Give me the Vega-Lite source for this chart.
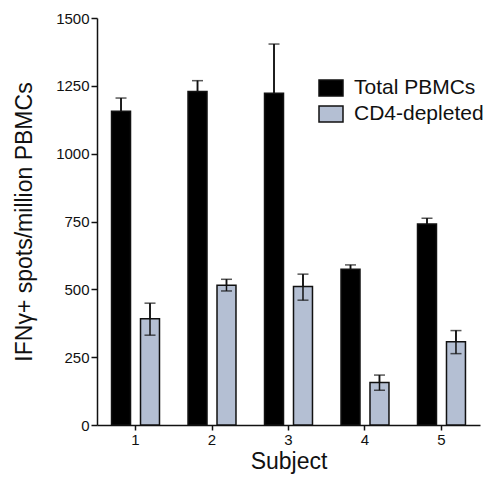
{
  "$schema": "https://vega.github.io/schema/vega-lite/v6.json",
  "width": 383,
  "height": 407,
  "autosize": {"type": "none"},
  "padding": {"left": 97, "top": 18, "right": 7, "bottom": 53},
  "config": {
    "view": {"stroke": null},
    "font": "Liberation Sans",
    "axis": {
      "grid": false,
      "domainColor": "#111111",
      "domainWidth": 1.5,
      "tickColor": "#111111",
      "tickWidth": 1.5,
      "labelColor": "#111111",
      "labelFont": "Liberation Sans",
      "labelFontSize": 15,
      "titleColor": "#111111",
      "titleFont": "Liberation Sans",
      "titleFontSize": 23,
      "titleFontWeight": "normal"
    }
  },
  "data": {
    "values": [
      {"subject": "1", "group": "Total PBMCs", "value": 1156, "lo": 1156, "hi": 1205},
      {"subject": "2", "group": "Total PBMCs", "value": 1229, "lo": 1229, "hi": 1269},
      {"subject": "3", "group": "Total PBMCs", "value": 1223, "lo": 1223, "hi": 1404},
      {"subject": "4", "group": "Total PBMCs", "value": 574, "lo": 574, "hi": 590},
      {"subject": "5", "group": "Total PBMCs", "value": 741, "lo": 741, "hi": 762},
      {"subject": "1", "group": "CD4-depleted", "value": 392, "lo": 331, "hi": 449},
      {"subject": "2", "group": "CD4-depleted", "value": 515, "lo": 494, "hi": 537},
      {"subject": "3", "group": "CD4-depleted", "value": 510, "lo": 460, "hi": 556},
      {"subject": "4", "group": "CD4-depleted", "value": 157, "lo": 128, "hi": 184},
      {"subject": "5", "group": "CD4-depleted", "value": 307, "lo": 263, "hi": 348}
    ]
  },
  "encoding": {
    "x": {
      "field": "subject",
      "type": "ordinal",
      "scale": {"paddingInner": 0.373, "paddingOuter": 0.19},
      "axis": {"labelAngle": 0, "tickSize": 5, "labelPadding": 2, "title": "Subject", "titlePadding": 3}
    },
    "xOffset": {
      "field": "group",
      "type": "nominal",
      "sort": ["Total PBMCs", "CD4-depleted"],
      "scale": {"paddingInner": 0.345, "paddingOuter": 0}
    }
  },
  "layer": [
    {
      "mark": {"type": "rule", "color": "#111111", "strokeWidth": 1.5},
      "encoding": {
        "y": {"field": "lo", "type": "quantitative", "scale": {"domain": [0, 1500], "nice": false}},
        "y2": {"field": "hi"}
      }
    },
    {
      "mark": {"type": "bar", "stroke": "#111111", "strokeWidth": 1.5},
      "encoding": {
        "y": {
          "field": "value",
          "type": "quantitative",
          "scale": {"domain": [0, 1500], "nice": false},
          "axis": {
            "values": [0, 250, 500, 750, 1000, 1250, 1500],
            "format": "d",
            "tickSize": 6,
            "labelPadding": 2,
            "title": "IFNγ+ spots/million PBMCs",
            "titlePadding": 19
          }
        },
        "color": {
          "field": "group",
          "type": "nominal",
          "sort": ["Total PBMCs", "CD4-depleted"],
          "scale": {"domain": ["Total PBMCs", "CD4-depleted"], "range": ["#000000", "#b4bfd3"]},
          "legend": {
            "title": null,
            "orient": "none",
            "legendX": 221,
            "legendY": 57,
            "padding": 0,
            "symbolType": "M-1,-0.667H1V0.667H-1Z",
            "symbolSize": 576,
            "symbolStrokeColor": "#111111",
            "symbolStrokeWidth": 1.5,
            "symbolOpacity": 1,
            "labelFontSize": 21,
            "labelColor": "#111111",
            "labelFont": "Liberation Sans",
            "labelOffset": 10,
            "rowPadding": 1
          }
        }
      }
    },
    {
      "mark": {"type": "rule", "color": "#111111", "strokeWidth": 1.5},
      "encoding": {
        "y": {"field": "lo", "type": "quantitative", "scale": {"domain": [0, 1500], "nice": false}},
        "y2": {"field": "hi"}
      }
    },
    {
      "mark": {"type": "tick", "color": "#111111", "thickness": 1.5, "size": 11},
      "encoding": {"y": {"field": "hi", "type": "quantitative", "scale": {"domain": [0, 1500], "nice": false}}}
    },
    {
      "transform": [{"filter": "datum.group === 'CD4-depleted'"}],
      "mark": {"type": "tick", "color": "#111111", "thickness": 1.5, "size": 11},
      "encoding": {"y": {"field": "lo", "type": "quantitative", "scale": {"domain": [0, 1500], "nice": false}}}
    }
  ]
}
